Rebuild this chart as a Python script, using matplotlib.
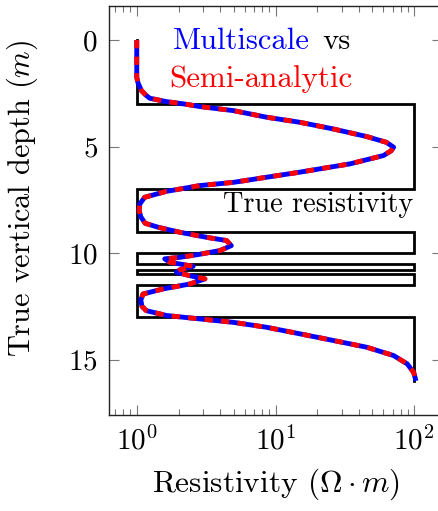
import numpy as np
import matplotlib
matplotlib.use("Agg")
import matplotlib.pyplot as plt
from matplotlib.ticker import LogLocator, FixedLocator

plt.rcParams['font.family'] = 'serif'
plt.rcParams['font.serif'] = ['cmr10']
plt.rcParams['mathtext.fontset'] = 'cm'
plt.rcParams['axes.unicode_minus'] = False
plt.rcParams['axes.formatter.use_mathtext'] = True

# True resistivity layers
layer_bounds = [0, 3, 7, 9, 10, 10.5, 10.8, 11.0, 11.5, 13, 16]
layer_res = [1, 100, 1, 100, 1, 100, 1, 100, 1, 100]

# Simulated curve (depth, resistivity)
curve_depth = [0.0, 0.5, 1.0, 1.5, 1.75, 2.0, 2.37, 2.6, 2.73, 2.89, 3.0, 3.12, 3.31,
               3.62, 3.86, 4.17, 4.53, 4.8, 5.03, 5.2, 5.42, 5.81, 6.2, 6.44, 6.68,
               6.83, 7.1, 7.38, 7.7, 8.0, 8.3, 8.6, 8.8, 9.02, 9.26, 9.41, 9.65, 9.88,
               10.08, 10.2, 10.27, 10.43, 10.62, 10.79, 10.9, 11.06, 11.21, 11.45, 11.68,
               11.92, 12.2, 12.5, 12.7, 12.93, 13.09, 13.25, 13.48, 13.79, 14.1, 14.42,
               14.81, 15.2, 15.6, 16.0]
curve_res = [1.0, 1.0, 1.0, 1.0, 1.0, 1.02, 1.08, 1.17, 1.24, 1.64, 2.2, 2.85, 4.96,
             8.6, 15, 26, 45.5, 63, 71, 68, 60, 34.5, 15, 8.6, 4.96,
             2.85, 1.64, 1.14, 1.05, 1.04, 1.07, 1.15, 1.45, 2.04, 3.19, 4.44, 4.8, 3.98,
             2.7, 2.04, 1.59, 1.73, 2.55, 2.04, 1.93, 2.41, 3.1, 2.41, 1.55,
             1.11, 1.07, 1.09, 1.17, 1.64, 2.85, 4.96, 8.6, 15, 26, 45.5,
             71, 89, 99, 103]

y_ticks = [0, 5, 10, 15]

fig = plt.figure(figsize=(4.38, 5.11), dpi=100)
W, H = 438, 511
ax = fig.add_axes([109 / W, (H - 415) / H, (442 - 109) / W, (415 - 6) / H])

# step line for true resistivity
sx = np.repeat(layer_res, 2)
sy = np.repeat(layer_bounds, 2)[1:-1]
ax.plot(sx, sy, color='black', lw=2.0, solid_joinstyle='miter', zorder=2)

ax.plot(curve_res, curve_depth, color='blue', lw=3.5, solid_capstyle='butt',
        solid_joinstyle='round', zorder=3)
ax.plot(curve_res, curve_depth, color='red', lw=3.5, dashes=(1.7, 1.7),
        dash_capstyle='butt', dash_joinstyle='round', zorder=4)

ax.set_xscale('log')
ax.set_xlim(10 ** -0.2, 10 ** 2.2)
ax.set_ylim(17.6, -1.6)
ax.yaxis.set_major_locator(FixedLocator(y_ticks))
ax.xaxis.set_major_locator(LogLocator(base=10, numticks=10))
ax.xaxis.set_minor_locator(LogLocator(base=10, subs=np.arange(2, 10), numticks=10))

ax.tick_params(which='both', direction='in', top=True, right=True,
               labelsize=21, color='#777777', width=0.8)
ax.tick_params(which='major', length=7.5, pad=8)
ax.tick_params(which='minor', length=4.5)
for s in ax.spines.values():
    s.set_linewidth(1.0)
    s.set_color('#222222')

ax.set_xlabel(r'Resistivity ($\Omega \cdot m$)', fontsize=22.5, labelpad=8)
ax.set_ylabel(r'True vertical depth ($m$)', fontsize=21.8)
ax.yaxis.set_label_coords(-0.207, 0.529)

ax.text(10 ** 0.258, 0.40, 'Multiscale', color='blue', fontsize=22,
        ha='left', va='baseline')
ax.text(10 ** 1.336, 0.40, 'vs', color='black', fontsize=22,
        ha='left', va='baseline')
ax.text(10 ** 0.891, 2.2, 'Semi-analytic', color='red', fontsize=22.3,
        ha='center', va='baseline')
ax.text(10 ** 1.993, 8.08, 'True resistivity', color='black', fontsize=20.4,
        ha='right', va='baseline')

fig.savefig('out.png', dpi=100)
